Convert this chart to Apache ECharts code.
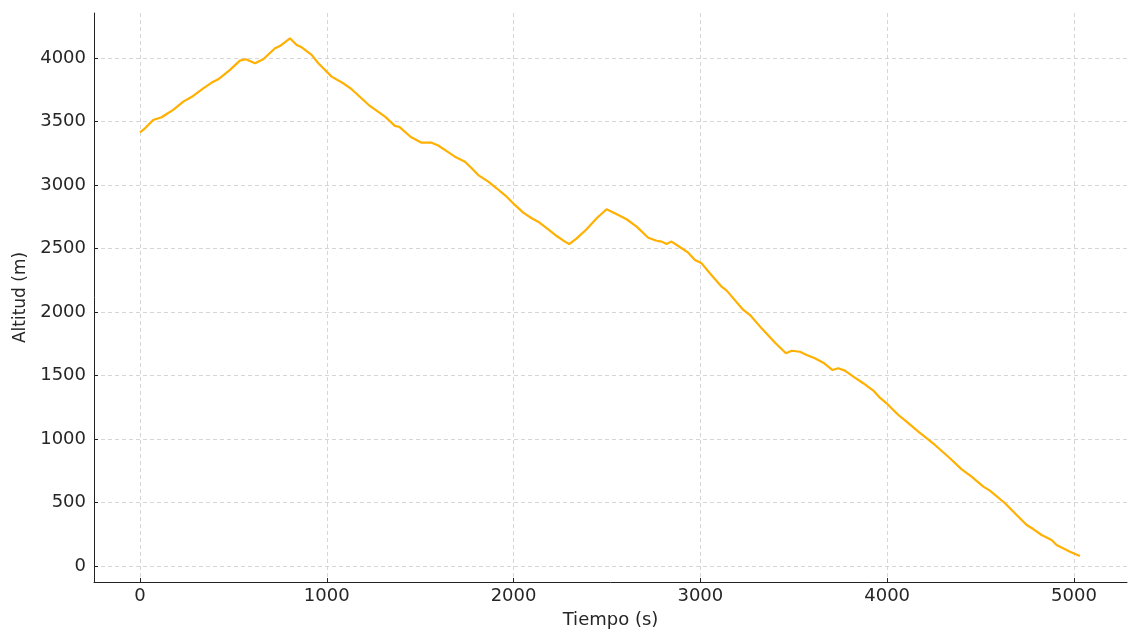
<!DOCTYPE html>
<html>
<head>
<meta charset="utf-8">
<script src="https://cdn.jsdelivr.net/npm/echarts@6/dist/echarts.min.js"></script>
<style>
  html, body { margin: 0; padding: 0; background: #fff; }
  #panel { width: 1132px; height: 633px; }
</style>
</head>
<body>
<div id="panel"></div>
<script>
// tiempo (s) y altitud (m)
var tiempo = [0, 27, 71, 116, 143, 178, 232, 285, 339, 384, 419, 482, 535, 567, 616, 660, 723, 749, 803,
  839, 866, 919, 955, 1026, 1088, 1133, 1231, 1312, 1365, 1390, 1450, 1508, 1561, 1597, 1642, 1686, 1740,
  1776, 1811, 1865, 1909, 1963, 2007, 2052, 2097, 2132, 2186, 2231, 2275, 2298, 2338, 2391, 2445, 2498,
  2561, 2605, 2659, 2721, 2766, 2793, 2819, 2846, 2900, 2935, 2971, 3007, 3051, 3114, 3141, 3230, 3266,
  3328, 3400, 3458, 3489, 3533, 3569, 3613, 3658, 3708, 3738, 3774, 3819, 3872, 3926, 3961, 3997, 4060,
  4104, 4167, 4256, 4336, 4399, 4452, 4515, 4550, 4631, 4693, 4747, 4782, 4827, 4880, 4907, 4979, 5032];
var altitud = [3415, 3446, 3512, 3533, 3559, 3591, 3656, 3701, 3761, 3806, 3832, 3906, 3979, 3990, 3958,
  3990, 4076, 4094, 4155, 4102, 4084, 4024, 3958, 3853, 3801, 3754, 3622, 3538, 3465, 3456, 3378, 3333,
  3333, 3311, 3266, 3223, 3183, 3131, 3078, 3026, 2974, 2908, 2843, 2782, 2738, 2711, 2651, 2598, 2554,
  2535, 2580, 2651, 2738, 2809, 2764, 2730, 2672, 2585, 2561, 2554, 2535, 2554, 2502, 2467, 2409, 2383,
  2305, 2199, 2168, 2016, 1976, 1871, 1758, 1675, 1695, 1687, 1661, 1635, 1601, 1543, 1557, 1538, 1491,
  1439, 1381, 1325, 1281, 1189, 1136, 1058, 953, 848, 761, 703, 625, 593, 494, 402, 323, 291, 244, 205,
  165, 113, 79];

var puntos = tiempo.map(function (t, i) { return [t, altitud[i]]; });

var fuente = 'DejaVu Sans';
function sinComas(v) { return String(v); }

var myChart = echarts.init(document.getElementById('panel'));
myChart.setOption({
  backgroundColor: '#ffffff',
  animation: false,
  grid: { left: 94, right: 5, top: 13, bottom: 51, outerBoundsMode: 'none' },
  xAxis: {
    type: 'value',
    min: -246, max: 5284,
    splitNumber: 5,
    name: 'Tiempo (s)',
    nameLocation: 'middle',
    nameGap: 29,
    nameTextStyle: { color: '#262626', fontSize: 18, fontFamily: fuente },
    axisLine: { show: true, onZero: false, lineStyle: { color: '#222', width: 1 } },
    axisTick: { show: true, inside: true, length: 4, lineStyle: { color: '#222' } },
    axisLabel: { color: '#262626', fontSize: 18, fontFamily: fuente, margin: 5,
                 formatter: sinComas, showMinLabel: false, showMaxLabel: false },
    splitLine: { show: true, showMinLine: false, showMaxLine: false,
                 lineStyle: { color: '#cccccc', type: [4, 3], width: 0.8 } }
  },
  yAxis: {
    type: 'value',
    min: -126, max: 4354,
    splitNumber: 9,
    name: 'Altitud (m)',
    nameLocation: 'middle',
    nameGap: 63,
    nameTextStyle: { color: '#262626', fontSize: 17, fontFamily: fuente },
    axisLine: { show: true, onZero: false, lineStyle: { color: '#222', width: 1 } },
    axisTick: { show: true, inside: true, length: 4, lineStyle: { color: '#222' } },
    axisLabel: { color: '#262626', fontSize: 18, fontFamily: fuente, margin: 8,
                 formatter: sinComas, showMinLabel: false, showMaxLabel: false },
    splitLine: { show: true, showMinLine: false, showMaxLine: false,
                 lineStyle: { color: '#cccccc', type: [4, 3], width: 0.8 } }
  },
  series: [{
    type: 'line',
    data: puntos,
    showSymbol: false,
    lineStyle: { color: '#ffb000', width: 2.2 },
    itemStyle: { color: '#ffb000' }
  }]
});
</script>
</body>
</html>
